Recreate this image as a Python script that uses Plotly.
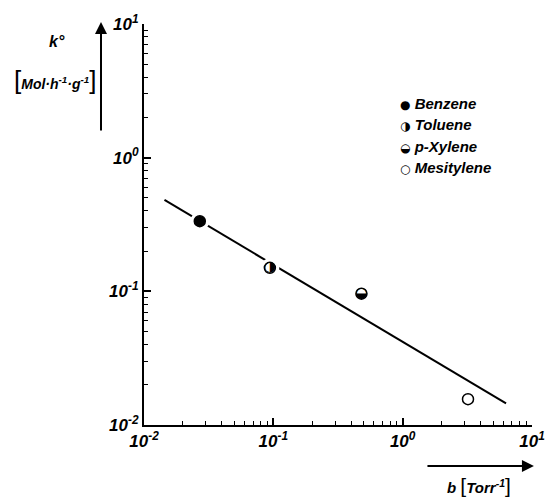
import plotly.graph_objects as go

# data
compounds = ["Benzene", "Toluene", "p-Xylene", "Mesitylene"]
symbols = ["\u25CF", "\u25D1", "\u25D2", "\u25CB"]
marker_fill = ["black", "white", "white", "white"]
half_glyphs = ["", "\u25D1", "\u25D2", ""]
b_vals = [0.027, 0.094, 0.48, 3.2]
k_vals = [0.335, 0.150, 0.096, 0.0156]
line_b = [0.0144, 6.3]
line_k = [0.483, 0.0145]
tick_vals = [0.01, 0.1, 1, 10]
tick_text = ["10<sup>-2</sup>", "10<sup>-1</sup>", "10<sup>0</sup>", "10<sup>1</sup>"]
decades = [0.01, 0.1, 1]
minor_vals = [d * m for d in decades for m in range(2, 10)]

FONT = "Liberation Sans"

fig = go.Figure()
fig.add_trace(go.Scatter(x=line_b, y=line_k, mode="lines",
                         line=dict(color="black", width=2), showlegend=False, hoverinfo="skip"))
# white halo to create gaps in the line around markers
fig.add_trace(go.Scatter(x=b_vals, y=k_vals, mode="markers",
                         marker=dict(color="white", size=19, line=dict(width=0)),
                         showlegend=False, hoverinfo="skip"))
fig.add_trace(go.Scatter(x=b_vals, y=k_vals, mode="markers",
                         marker=dict(symbol="circle", size=11, color=marker_fill,
                                     line=dict(color="black", width=1.5)),
                         showlegend=False))
fig.add_trace(go.Scatter(x=b_vals, y=k_vals, mode="text", text=half_glyphs,
                         textposition="middle center",
                         textfont=dict(family="DejaVu Sans", size=14, color="black"),
                         showlegend=False, hoverinfo="skip"))

bt = lambda s: "<b><i>" + s + "</i></b>"

axis_common = dict(type="log", showgrid=False, zeroline=False, showline=True,
                   linecolor="black", linewidth=2, ticks="inside", ticklen=7,
                   tickwidth=1.5, tickcolor="black", mirror=False,
                   tickfont=dict(family=FONT, size=17, color="black"),
                   minor=dict(ticks="inside", ticklen=4, tickcolor="black", tickwidth=1,
                              tickvals=minor_vals, showgrid=False))

fig.update_xaxes(range=[-2, 1], tickvals=tick_vals,
                 ticktext=[bt(t) for t in tick_text], **axis_common)
fig.update_yaxes(range=[-2, 1], tickvals=tick_vals,
                 ticktext=[bt(t) for t in tick_text], **axis_common)

W, H = 557, 499
L, R, T, B = 144, 16, 24, 74
pw, ph = W - L - R, H - T - B

def px(x):
    return (x - L) / pw

def py(y):
    return (H - B - y) / ph

ann = []
# y axis label
ann.append(dict(x=px(55), y=py(42), xref="paper", yref="paper", showarrow=False,
                xanchor="center", yanchor="middle",
                text=bt("k°"), font=dict(family=FONT, size=16, color="black")))
ann.append(dict(x=px(53), y=py(80), xref="paper", yref="paper", showarrow=False,
                xanchor="center", yanchor="middle",
                text="<span style='font-size:26px'>[</span>" + bt("Mol·h<sup>-1</sup>·g<sup>-1</sup>")
                     + "<span style='font-size:26px'>]</span>",
                font=dict(family=FONT, size=14, color="black")))
# vertical arrow
ann.append(dict(x=px(100), y=py(22), xref="paper", yref="paper", showarrow=True,
                ax=0, ay=110, arrowhead=2, arrowsize=1.2, arrowwidth=2,
                arrowcolor="black", text=""))
# horizontal arrow
ann.append(dict(x=px(543), y=py(466), xref="paper", yref="paper", showarrow=True,
                ax=-108, ay=0, arrowhead=2, arrowsize=1.2, arrowwidth=2,
                arrowcolor="black", text=""))
# x axis label
ann.append(dict(x=px(487), y=py(485), xref="paper", yref="paper", showarrow=False,
                xanchor="center", yanchor="middle",
                text=bt("b ") + "<span style='font-size:21px'>[</span>" + bt("Torr<sup>-1</sup>")
                     + "<span style='font-size:21px'>]</span>",
                font=dict(family=FONT, size=15, color="black")))
# legend
rows_y = [103, 124, 146, 167]
for name, sym, yy in zip(compounds, symbols, rows_y):
    ann.append(dict(x=px(404), y=py(yy), xref="paper", yref="paper", showarrow=False,
                    xanchor="left", yanchor="middle",
                    text="<span style='font-family:DejaVu Sans;font-size:12px'>" + sym + "</span> "
                         + bt(name),
                    font=dict(family=FONT, size=15, color="black")))

fig.update_layout(width=W, height=H, margin=dict(l=L, r=R, t=T, b=B),
                  paper_bgcolor="white", plot_bgcolor="white",
                  annotations=ann, showlegend=False)

fig.write_html("out.html")
